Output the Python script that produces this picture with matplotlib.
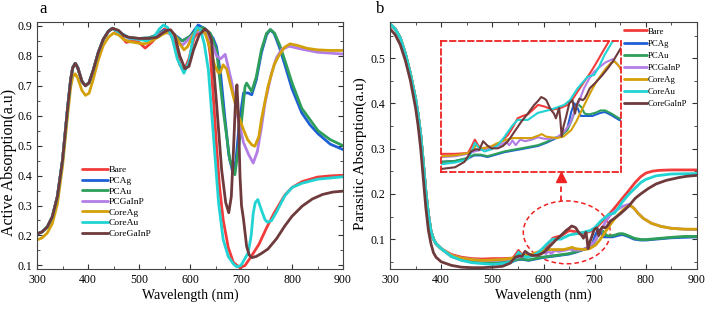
import numpy as np
import matplotlib
matplotlib.use("Agg")
import matplotlib.pyplot as plt
from matplotlib.patches import Ellipse
from matplotlib.ticker import MultipleLocator

plt.rcParams['font.family'] = ['Liberation Serif', 'DejaVu Serif']
plt.rcParams['mathtext.fontset'] = 'stix'

# -------------------------------
# DATA
# -------------------------------
labels = ["Bare", "PCAg", "PCAu", "PCGaInP", "CoreAg", "CoreAu", "CoreGaInP"]
colors = ["#f23b3b", "#1f5fd6", "#2e9e5b", "#b27ee6", "#d4a00a", "#22d3d3", "#6e3a3c"]

# common short-wavelength part of panel a (curves that overlap CoreGaInP)
wl_a_head = [300, 310, 320, 330, 340, 350, 360, 366, 370, 375, 380, 388, 395, 402, 410, 420, 430, 440, 448]
a_head = [0.205, 0.212, 0.228, 0.262, 0.33, 0.45, 0.625, 0.72, 0.76, 0.775, 0.76, 0.715, 0.70, 0.71, 0.75,
          0.81, 0.855, 0.882, 0.892]

# panel a : active absorption
wl_a_bare = wl_a_head + [460, 475, 490, 500, 512, 525, 540, 550, 560, 570, 580, 588, 598, 608, 620, 630, 635, 640,
                         645, 652, 658, 665, 675, 685, 698, 708, 720, 735, 750, 765, 786, 800, 820, 850, 875, 900]
a_bare = a_head + [0.875, 0.845, 0.85, 0.845, 0.826, 0.845, 0.875, 0.89, 0.88, 0.84, 0.77, 0.75, 0.79, 0.86, 0.89,
                   0.875, 0.86, 0.80, 0.68, 0.50, 0.36, 0.253, 0.16, 0.11, 0.092, 0.10, 0.13, 0.17, 0.225, 0.275,
                   0.335, 0.36, 0.38, 0.395, 0.399, 0.401]

wl_a_pcag = wl_a_head + [460, 480, 500, 520, 535, 548, 560, 570, 585, 600, 616, 630, 645, 652, 660, 668, 676, 684,
                         690, 697, 705, 714, 721, 730, 740, 750, 757, 765, 775, 786, 800, 819, 835, 851, 875, 900]
a_pcag = a_head + [0.88, 0.86, 0.858, 0.86, 0.87, 0.885, 0.88, 0.87, 0.85, 0.865, 0.903, 0.89, 0.86, 0.83, 0.74,
                   0.60, 0.47, 0.409, 0.45, 0.58, 0.676, 0.676, 0.67, 0.72, 0.81, 0.87, 0.887, 0.875, 0.83, 0.77,
                   0.69, 0.61, 0.57, 0.54, 0.505, 0.487]

wl_a_pcau = wl_a_head + [460, 480, 500, 520, 535, 548, 560, 570, 585, 600, 612, 625, 640, 652, 665, 678, 688,
                         698, 708, 711, 716, 721, 730, 740, 750, 758, 766, 776, 786, 800, 819, 851, 875, 900]
a_pcau = a_head + [0.88, 0.86, 0.858, 0.86, 0.87, 0.882, 0.875, 0.865, 0.85, 0.865, 0.885, 0.895, 0.875, 0.82, 0.62,
                   0.453, 0.403, 0.531, 0.698, 0.709, 0.695, 0.681, 0.73, 0.82, 0.875, 0.888, 0.875, 0.835, 0.785,
                   0.71, 0.625, 0.55, 0.52, 0.50]

wl_a_pcgainp = wl_a_head + [460, 480, 500, 520, 535, 548, 560, 570, 585, 600, 612, 623, 640, 652, 660, 669, 682,
                            692, 705, 715, 724, 732, 740, 747, 760, 770, 780, 795, 820, 850, 900]
a_pcgainp = a_head + [0.878, 0.858, 0.855, 0.857, 0.866, 0.88, 0.875, 0.86, 0.835, 0.86, 0.88, 0.885, 0.855, 0.80,
                      0.79, 0.805, 0.71, 0.61, 0.51, 0.47, 0.442, 0.48, 0.56, 0.642, 0.743, 0.795, 0.822, 0.832,
                      0.822, 0.812, 0.806]

wl_a_coreag = [300, 310, 320, 330, 340, 350, 360, 366, 370, 375, 380, 388, 395, 402, 410, 420, 430, 440, 450, 460,
               470, 480, 490, 500, 510, 520, 530, 540, 550, 560, 570, 580, 588, 595, 605, 612, 620, 630, 640, 648,
               655, 659, 665, 672, 685, 695, 705, 713, 721, 727, 735, 740, 745, 753, 765, 773, 785, 796, 810, 830,
               850, 875, 900]
a_coreag = [0.185, 0.192, 0.208, 0.24, 0.305, 0.43, 0.60, 0.695, 0.73, 0.74, 0.725, 0.685, 0.668, 0.675, 0.72,
            0.785, 0.835, 0.862, 0.876, 0.87, 0.855, 0.848, 0.845, 0.842, 0.84, 0.845, 0.855, 0.865, 0.875, 0.88,
            0.87, 0.84, 0.82, 0.83, 0.865, 0.885, 0.89, 0.875, 0.82, 0.77, 0.745, 0.743, 0.77, 0.755, 0.664, 0.60,
            0.553, 0.52, 0.503, 0.498, 0.53, 0.587, 0.63, 0.698, 0.77, 0.797, 0.828, 0.84, 0.835, 0.825, 0.82,
            0.818, 0.818]

wl_a_coreau = wl_a_head + [460, 480, 500, 515, 530, 540, 548, 556, 565, 575, 588, 598, 606, 613, 620, 628, 636,
                           646, 656, 665, 675, 685, 692, 700, 714, 720, 724, 728, 733, 740, 747, 752, 760, 770, 786,
                           800, 819, 850, 900]
a_coreau = a_head + [0.88, 0.86, 0.855, 0.85, 0.865, 0.89, 0.903, 0.895, 0.86, 0.79, 0.742, 0.78, 0.86, 0.895,
                     0.89, 0.84, 0.753, 0.531, 0.309, 0.187, 0.13, 0.105, 0.095, 0.10, 0.142, 0.20, 0.275, 0.31,
                     0.32, 0.285, 0.253, 0.244, 0.25, 0.28, 0.333, 0.36, 0.374, 0.388, 0.396]

wl_a_coregainp = wl_a_head + [460, 470, 480, 500, 520, 535, 545, 555, 562, 570, 580, 590, 598, 607, 618, 629, 636,
                              642, 652, 662, 670, 676, 681, 685, 689, 692, 695, 698, 701, 705, 711, 716, 721, 730,
                              740, 753, 770, 786, 800, 820, 840, 860, 880, 900]
a_coregainp = a_head + [0.885, 0.868, 0.862, 0.858, 0.858, 0.862, 0.875, 0.885, 0.887, 0.87, 0.80, 0.757, 0.765,
                        0.82, 0.87, 0.89, 0.88, 0.853, 0.642, 0.42, 0.31, 0.276, 0.33, 0.476, 0.64, 0.703, 0.60,
                        0.40, 0.30, 0.253, 0.164, 0.135, 0.126, 0.13, 0.14, 0.155, 0.19, 0.232, 0.264, 0.298,
                        0.322, 0.337, 0.345, 0.348]

# panel b : parasitic absorption
wl_b_head = [300, 310, 320, 330, 340, 350, 355, 360, 365, 370, 375, 380, 385, 390, 400]
b_head = [0.576, 0.565, 0.545, 0.51, 0.465, 0.41, 0.375, 0.33, 0.27, 0.205, 0.155, 0.118, 0.10, 0.09, 0.079]

wl_b_bare = wl_b_head + [420, 440, 460, 480, 500, 520, 540, 545, 551, 556, 561, 570, 582, 592, 603, 610, 618, 626,
                         634, 642, 650, 660, 673, 685, 696, 704, 712, 722, 733, 744, 754, 765, 779, 790, 800, 812,
                         825, 850, 875, 900]
b_bare = b_head + [0.066, 0.06, 0.057, 0.056, 0.057, 0.057, 0.058, 0.065, 0.075, 0.068, 0.064, 0.065, 0.067, 0.072,
                   0.081, 0.09, 0.102, 0.105, 0.107, 0.113, 0.119, 0.117, 0.113, 0.115, 0.119, 0.126, 0.136, 0.148,
                   0.161, 0.176, 0.19, 0.205, 0.225, 0.238, 0.246, 0.25, 0.252, 0.253, 0.253, 0.253]

wl_b_pcag = wl_b_head + [420, 440, 460, 480, 500, 520, 540, 550, 560, 571, 584, 597, 610, 624, 637, 650, 663, 676,
                         686, 696, 702, 707, 712, 717, 725, 735, 748, 755, 765, 777, 790, 800, 820, 850, 900]
b_pcag = b_head + [0.062, 0.054, 0.05, 0.048, 0.047, 0.048, 0.051, 0.055, 0.055, 0.053, 0.056, 0.059, 0.061,
                   0.063, 0.065, 0.067, 0.071, 0.076, 0.08, 0.09, 0.11, 0.121, 0.115, 0.105, 0.105, 0.105, 0.109,
                   0.11, 0.106, 0.10, 0.098, 0.098, 0.10, 0.103, 0.105]

wl_b_pcau = wl_b_head + [420, 440, 460, 480, 500, 520, 540, 550, 560, 571, 584, 597, 610, 624, 637, 650, 663, 676,
                         686, 696, 703, 708, 713, 718, 723, 730, 740, 748, 755, 765, 777, 790, 800, 820, 850, 875,
                         900]
b_pcau = b_head + [0.062, 0.054, 0.05, 0.048, 0.047, 0.048, 0.052, 0.056, 0.056, 0.054, 0.057, 0.06, 0.062, 0.064,
                   0.066, 0.068, 0.072, 0.077, 0.08, 0.087, 0.10, 0.112, 0.12, 0.116, 0.108, 0.107, 0.109, 0.112,
                   0.112, 0.108, 0.102, 0.099, 0.099, 0.101, 0.104, 0.106, 0.106]

wl_b_pcgainp = wl_b_head + [420, 440, 460, 480, 500, 520, 540, 550, 560, 575, 590, 600, 605, 610, 615, 622, 630,
                            640, 650, 660, 670, 680, 691, 700, 707, 715, 722, 730, 738, 748, 756, 767, 777, 785,
                            795, 811, 830, 850, 875, 900]
b_pcgainp = b_head + [0.064, 0.058, 0.055, 0.053, 0.053, 0.054, 0.057, 0.06, 0.062, 0.064, 0.068, 0.072, 0.068,
                      0.074, 0.068, 0.075, 0.073, 0.075, 0.078, 0.076, 0.076, 0.078, 0.085, 0.095, 0.11, 0.125,
                      0.14, 0.152, 0.161, 0.168, 0.173, 0.177, 0.168, 0.157, 0.146, 0.135, 0.128, 0.124, 0.122,
                      0.121]

wl_b_coreag = wl_b_head + [420, 440, 460, 480, 500, 520, 540, 548, 553, 558, 565, 575, 585, 597, 610, 625, 640,
                           650, 656, 662, 670, 680, 690, 702, 710, 717, 725, 733, 741, 749, 756, 764, 770, 777, 785,
                           795, 811, 830, 850, 875, 900]
b_coreag = b_head + [0.064, 0.058, 0.055, 0.053, 0.054, 0.055, 0.058, 0.062, 0.068, 0.065, 0.064, 0.066, 0.07,
                     0.074, 0.077, 0.077, 0.077, 0.08, 0.082, 0.079, 0.078, 0.077, 0.079, 0.087, 0.098, 0.11, 0.123,
                     0.136, 0.148, 0.157, 0.165, 0.172, 0.174, 0.168, 0.157, 0.146, 0.135, 0.128, 0.124, 0.122,
                     0.122]

wl_b_coreau = wl_b_head + [420, 440, 460, 480, 500, 520, 540, 546, 551, 557, 566, 578, 587, 597, 603, 610, 618,
                           634, 650, 670, 691, 700, 712, 728, 738, 746, 754, 765, 779, 790, 800, 820, 850, 900]
b_coreau = b_head + [0.062, 0.053, 0.048, 0.046, 0.044, 0.046, 0.05, 0.06, 0.071, 0.065, 0.06, 0.063, 0.068,
                     0.078, 0.085, 0.093, 0.10, 0.10, 0.109, 0.113, 0.119, 0.125, 0.14, 0.155, 0.157, 0.168, 0.182,
                     0.197, 0.213, 0.225, 0.232, 0.24, 0.244, 0.245]

wl_b_coregainp = [300, 310, 320, 330, 340, 350, 355, 360, 365, 370, 375, 380, 385, 390, 400, 420, 440, 460, 480,
                  500, 520, 535, 545, 553, 558, 564, 570, 577, 587, 595, 603, 613, 624, 634, 644, 650, 655, 660,
                  663, 667, 670, 675, 678, 681, 683, 685, 687, 690, 694, 699, 704, 708, 711, 715, 720, 723, 727,
                  731, 741, 750, 759, 768, 779, 790, 805, 820, 840, 864, 880, 900]
b_coregainp = [0.565, 0.552, 0.53, 0.495, 0.45, 0.39, 0.35, 0.30, 0.235, 0.17, 0.12, 0.09, 0.07, 0.06, 0.05,
               0.042, 0.038, 0.037, 0.037, 0.038, 0.04, 0.047, 0.06, 0.063, 0.062, 0.073, 0.068, 0.064, 0.064,
               0.067, 0.073, 0.085, 0.098, 0.108, 0.119, 0.124, 0.129, 0.127, 0.125, 0.118, 0.113, 0.108, 0.102,
               0.11, 0.115, 0.10, 0.079, 0.092, 0.104, 0.121, 0.125, 0.108, 0.12, 0.127, 0.125, 0.127, 0.133,
               0.14, 0.148, 0.156, 0.165, 0.175, 0.19, 0.2, 0.212, 0.222, 0.23, 0.236, 0.239, 0.241]

panel_a = [(wl_a_bare, a_bare), (wl_a_pcag, a_pcag), (wl_a_pcau, a_pcau), (wl_a_pcgainp, a_pcgainp),
           (wl_a_coreag, a_coreag), (wl_a_coreau, a_coreau), (wl_a_coregainp, a_coregainp)]
panel_b = [(wl_b_bare, b_bare), (wl_b_pcag, b_pcag), (wl_b_pcau, b_pcau), (wl_b_pcgainp, b_pcgainp),
           (wl_b_coreag, b_coreag), (wl_b_coreau, b_coreau), (wl_b_coregainp, b_coregainp)]

# -------------------------------
# FIGURE
# -------------------------------
fig = plt.figure(figsize=(7.06, 3.10), dpi=100)
ax1 = fig.add_axes([37 / 706, 41 / 310, 306 / 706, 247 / 310])
ax2 = fig.add_axes([390 / 706, 41 / 310, 307 / 706, 247 / 310])


def style_axis(ax):
    ax.set_xlim(300, 900)
    ax.xaxis.set_major_locator(MultipleLocator(100))
    ax.xaxis.set_minor_locator(MultipleLocator(50))
    ax.tick_params(which='both', direction='in', top=True, right=True, labelsize=8.5, colors='#333333',
                   labelcolor='black')
    ax.tick_params(which='major', length=3.5, width=0.8)
    ax.tick_params(which='minor', length=2, width=0.6)
    for s in ax.spines.values():
        s.set_linewidth(0.8)
        s.set_color('#444444')
    ax.set_xlabel("Wavelength (nm)", fontsize=10, labelpad=2)


for (x, y), c, lab in zip(panel_a, colors, labels):
    ax1.plot(x, y, color=c, lw=2.0, label=lab, solid_capstyle='round')
style_axis(ax1)
ax1.set_ylim(0.088, 0.913)
ax1.yaxis.set_major_locator(MultipleLocator(0.1))
ax1.yaxis.set_minor_locator(MultipleLocator(0.05))
ax1.set_ylabel("Active Absorption(a.u)", fontsize=11.5, labelpad=2)
ax1.yaxis.set_label_coords(-0.066, 0.43)
leg1 = ax1.legend(loc='upper left', bbox_to_anchor=(0.148, 0.418), frameon=False, fontsize=6.8,
                  handlelength=2.7, handletextpad=0.1, labelspacing=0.21, borderaxespad=0, borderpad=0)

for (x, y), c, lab in zip(panel_b, colors, labels):
    ax2.plot(x, y, color=c, lw=2.0, label=lab, solid_capstyle='round')
style_axis(ax2)
ax2.set_ylim(0.034, 0.58)
ax2.yaxis.set_major_locator(MultipleLocator(0.1))
ax2.yaxis.set_minor_locator(MultipleLocator(0.05))
ax2.set_ylabel("Parasitic Absorption(a.u)", fontsize=11, labelpad=2)
ax2.yaxis.set_label_coords(-0.074, 0.467)
leg2 = ax2.legend(loc='upper left', bbox_to_anchor=(0.763, 0.978), frameon=False, fontsize=6.3,
                  handlelength=2.55, handletextpad=0.1, labelspacing=0.45, borderaxespad=0, borderpad=0)

# zoomed view inside panel b
axin = fig.add_axes([441 / 706, 138 / 310, 180 / 706, 131 / 310])
for (x, y), c in zip(panel_b, colors):
    axin.plot(x, y, color=c, lw=1.5)
axin.set_xlim(498, 780)
axin.set_ylim(0.034, 0.2)
axin.set_xticks([])
axin.set_yticks([])
axin.patch.set_alpha(0)
for s in axin.spines.values():
    s.set_color('#ee2222')
    s.set_linestyle((0, (3, 2)))
    s.set_linewidth(1.3)

ell = Ellipse((645.5, 0.115), 170, 0.139, fill=False, ec='#ee2222', ls=(0, (3, 2)), lw=1.1)
ax2.add_patch(ell)
ax2.plot([634, 634], [0.1845, 0.23], color='#ee2222', lw=1.3, ls=(0, (3, 2)))
ax2.plot([634], [0.238], marker='^', color='#ee2222', markersize=7)

fig.text(43 / 706, 1 - 9 / 310, "a", fontsize=12, ha='center', va='center')
fig.text(380 / 706, 1 - 9 / 310, "b", fontsize=12, ha='center', va='center')

fig.savefig("out.png", dpi=100)
